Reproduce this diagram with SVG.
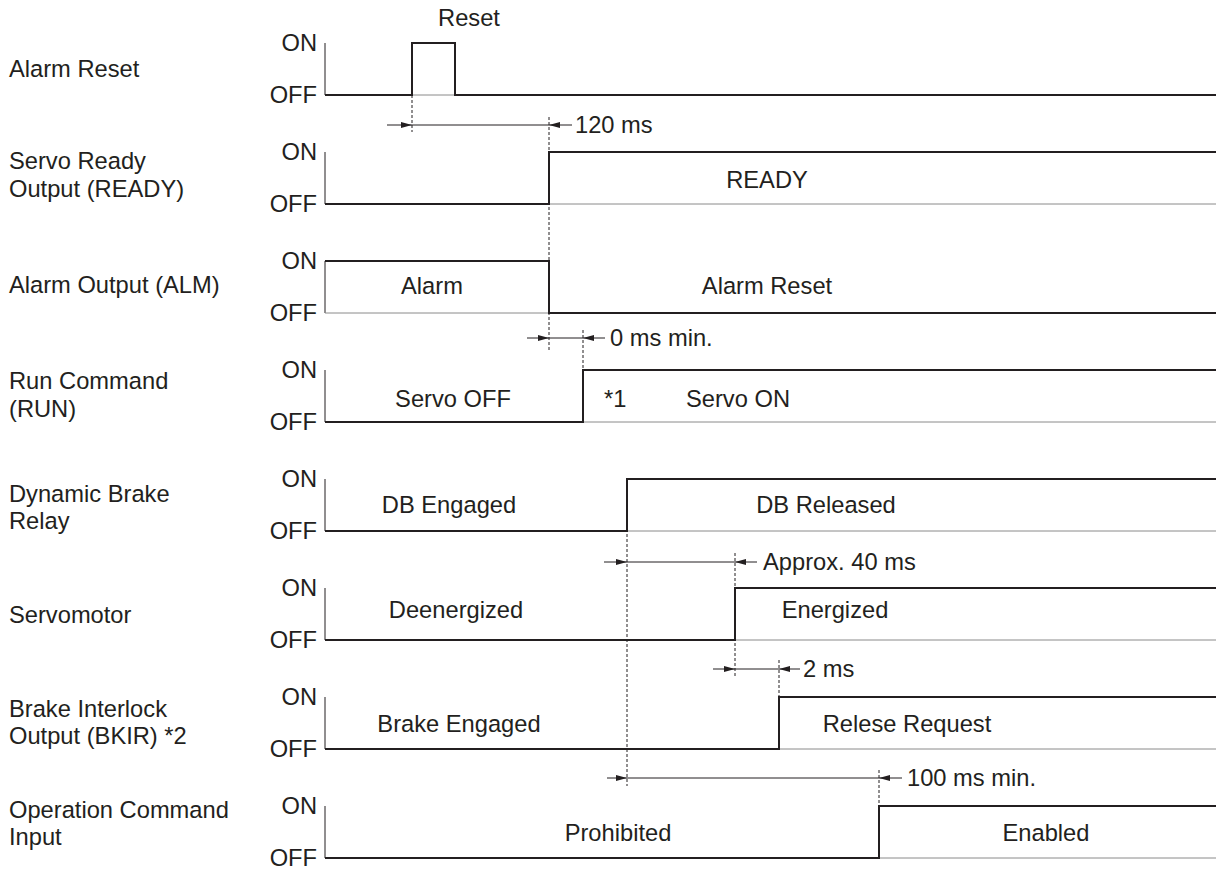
<svg xmlns="http://www.w3.org/2000/svg" width="1216" height="871" viewBox="0 0 1216 871">
<defs>
<style>
text{font-family:"Liberation Sans",Arial,sans-serif;font-size:23.7px;fill:#231f20}
.lbl{text-anchor:start}
.st{text-anchor:end}
.c{text-anchor:middle}
.axis{stroke:#231f20;stroke-width:1;fill:none}
.base{stroke:#8a8a8a;stroke-width:1;fill:none}
.sig{stroke:#231f20;stroke-width:2;fill:none;stroke-linejoin:miter}
.dash{stroke:#231f20;stroke-width:1;stroke-dasharray:3 2;fill:none}
.dim{stroke:#231f20;stroke-width:1;fill:none}
.arr{marker-end:url(#ah)}
</style>
<marker id="ah" markerUnits="userSpaceOnUse" markerWidth="11" markerHeight="6" refX="11" refY="3" orient="auto">
<path d="M0,0 L11,3 L0,6 z" fill="#231f20"/>
</marker>
</defs>
<rect width="1216" height="871" fill="#fff"/>

<g id="row-alarm-reset">
<text class="lbl" x="9" y="77">Alarm Reset</text>
<text class="st" x="317" y="51">ON</text>
<text class="st" x="317" y="103">OFF</text>
<line class="axis" x1="325" y1="43" x2="325" y2="95"/>
<line class="base" x1="325" y1="95" x2="1216" y2="95"/>
<path class="sig" d="M325,95 H412 V43 H455 V95 H1216"/>
<text class="c" x="469" y="26">Reset</text>
</g>

<g id="row-servo-ready">
<text class="lbl" x="9" y="169">Servo Ready</text>
<text class="lbl" x="9" y="197">Output (READY)</text>
<text class="st" x="317" y="160">ON</text>
<text class="st" x="317" y="212">OFF</text>
<line class="axis" x1="325" y1="152" x2="325" y2="204"/>
<line class="base" x1="325" y1="204" x2="1216" y2="204"/>
<path class="sig" d="M325,204 H549 V152 H1216"/>
<text class="c" x="767" y="188">READY</text>
</g>

<g id="row-alarm-output">
<text class="lbl" x="9" y="293">Alarm Output (ALM)</text>
<text class="st" x="317" y="269">ON</text>
<text class="st" x="317" y="321">OFF</text>
<line class="axis" x1="325" y1="261" x2="325" y2="313"/>
<line class="base" x1="325" y1="313" x2="1216" y2="313"/>
<path class="sig" d="M325,261 H549 V313 H1216"/>
<text class="c" x="432" y="294">Alarm</text>
<text class="c" x="767" y="294">Alarm Reset</text>
</g>

<g id="row-run-command">
<text class="lbl" x="9" y="389">Run Command</text>
<text class="lbl" x="9" y="417">(RUN)</text>
<text class="st" x="317" y="378">ON</text>
<text class="st" x="317" y="430">OFF</text>
<line class="axis" x1="325" y1="370" x2="325" y2="422"/>
<line class="base" x1="325" y1="422" x2="1216" y2="422"/>
<path class="sig" d="M325,422 H583 V370 H1216"/>
<text class="c" x="453" y="407">Servo OFF</text>
<text class="lbl" x="604" y="407">*1</text>
<text class="c" x="738" y="407">Servo ON</text>
</g>

<g id="row-dynamic-brake">
<text class="lbl" x="9" y="502">Dynamic Brake</text>
<text class="lbl" x="9" y="529">Relay</text>
<text class="st" x="317" y="487">ON</text>
<text class="st" x="317" y="539">OFF</text>
<line class="axis" x1="325" y1="479" x2="325" y2="531"/>
<line class="base" x1="325" y1="531" x2="1216" y2="531"/>
<path class="sig" d="M325,531 H627 V479 H1216"/>
<text class="c" x="449" y="513">DB Engaged</text>
<text class="c" x="826" y="513">DB Released</text>
</g>

<g id="row-servomotor">
<text class="lbl" x="9" y="623">Servomotor</text>
<text class="st" x="317" y="596">ON</text>
<text class="st" x="317" y="648">OFF</text>
<line class="axis" x1="325" y1="588" x2="325" y2="640"/>
<line class="base" x1="325" y1="640" x2="1216" y2="640"/>
<path class="sig" d="M325,640 H735 V588 H1216"/>
<text class="c" x="456" y="618">Deenergized</text>
<text class="c" x="835" y="618">Energized</text>
</g>

<g id="row-brake-interlock">
<text class="lbl" x="9" y="717">Brake Interlock</text>
<text class="lbl" x="9" y="744">Output (BKIR) *2</text>
<text class="st" x="317" y="705">ON</text>
<text class="st" x="317" y="757">OFF</text>
<line class="axis" x1="325" y1="697" x2="325" y2="749"/>
<line class="base" x1="325" y1="749" x2="1216" y2="749"/>
<path class="sig" d="M325,749 H779 V697 H1216"/>
<text class="c" x="459" y="732">Brake Engaged</text>
<text class="c" x="907" y="732">Relese Request</text>
</g>

<g id="row-operation-command">
<text class="lbl" x="9" y="818">Operation Command</text>
<text class="lbl" x="9" y="845">Input</text>
<text class="st" x="317" y="814">ON</text>
<text class="st" x="317" y="866">OFF</text>
<line class="axis" x1="325" y1="806" x2="325" y2="858"/>
<line class="base" x1="325" y1="858" x2="1216" y2="858"/>
<path class="sig" d="M325,858 H879 V806 H1216"/>
<text class="c" x="618" y="841">Prohibited</text>
<text class="c" x="1046" y="841">Enabled</text>
</g>

<g id="connectors">
<line class="dash" x1="412" y1="95" x2="412" y2="132"/>
<line class="dash" x1="549" y1="117" x2="549" y2="350"/>
<line class="dash" x1="583" y1="330" x2="583" y2="370"/>
<line class="dash" x1="627" y1="479" x2="627" y2="786"/>
<line class="dash" x1="735" y1="553" x2="735" y2="678"/>
<line class="dash" x1="779" y1="660" x2="779" y2="697"/>
<line class="dash" x1="879" y1="770" x2="879" y2="806"/>

<line class="dim arr" x1="387" y1="125" x2="412" y2="125"/>
<line class="dim" x1="412" y1="125" x2="549" y2="125"/>
<line class="dim arr" x1="572" y1="125" x2="549" y2="125"/>
<text class="lbl" x="575" y="133">120 ms</text>

<line class="dim arr" x1="527" y1="338" x2="549" y2="338"/>
<line class="dim" x1="549" y1="338" x2="583" y2="338"/>
<line class="dim arr" x1="605" y1="338" x2="583" y2="338"/>
<text class="lbl" x="610" y="346">0 ms min.</text>

<line class="dim arr" x1="604" y1="562" x2="627" y2="562"/>
<line class="dim" x1="627" y1="562" x2="735" y2="562"/>
<line class="dim arr" x1="757" y1="562" x2="735" y2="562"/>
<text class="lbl" x="763" y="570">Approx. 40 ms</text>

<line class="dim arr" x1="713" y1="669" x2="735" y2="669"/>
<line class="dim" x1="735" y1="669" x2="779" y2="669"/>
<line class="dim arr" x1="800" y1="669" x2="779" y2="669"/>
<text class="lbl" x="803" y="677">2 ms</text>

<line class="dim arr" x1="607" y1="778" x2="627" y2="778"/>
<line class="dim" x1="627" y1="778" x2="879" y2="778"/>
<line class="dim arr" x1="902" y1="778" x2="879" y2="778"/>
<text class="lbl" x="907" y="786">100 ms min.</text>
</g>
</svg>
